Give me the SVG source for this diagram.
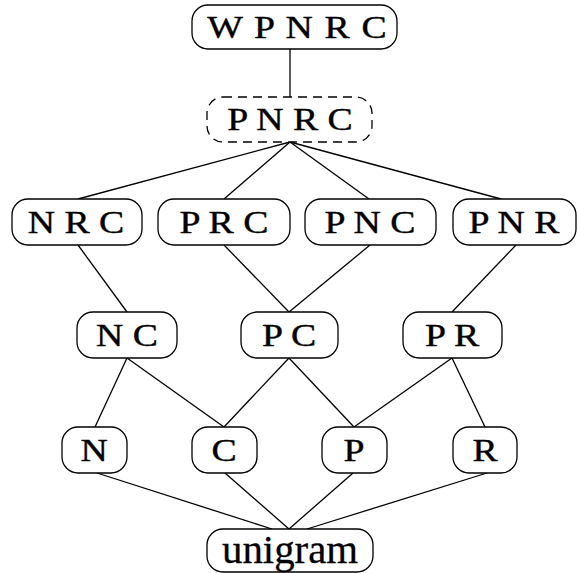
<svg xmlns="http://www.w3.org/2000/svg" width="577" height="573" viewBox="0 0 577 573">
<style>
.box{fill:#fff;stroke:#000;stroke-width:1.3}
.dash{stroke-dasharray:9 6}
.lbl{font-family:"Liberation Serif","Times New Roman",serif;font-size:32px;text-anchor:middle;fill:#000;stroke:#000;stroke-width:0.4}
.uni{font-family:"Liberation Serif","Times New Roman",serif;font-size:40px;text-anchor:middle;fill:#000;stroke:#000;stroke-width:0.3}
#edges line{stroke:#000;stroke-width:1.3}
</style>
<rect width="577" height="573" fill="#fff"/>
<g id="edges">
<line x1="290" y1="49" x2="290" y2="97"/>
<line x1="290" y1="142" x2="78" y2="199"/>
<line x1="290" y1="142" x2="224" y2="199"/>
<line x1="290" y1="142" x2="369" y2="199"/>
<line x1="290" y1="142" x2="501" y2="199"/>
<line x1="78" y1="245" x2="127" y2="312"/>
<line x1="224" y1="245" x2="289" y2="312"/>
<line x1="370" y1="245" x2="289" y2="312"/>
<line x1="516" y1="245" x2="452" y2="312"/>
<line x1="127" y1="358" x2="95" y2="427"/>
<line x1="127" y1="358" x2="224" y2="427"/>
<line x1="289" y1="358" x2="224" y2="427"/>
<line x1="289" y1="358" x2="354" y2="427"/>
<line x1="452" y1="358" x2="354" y2="427"/>
<line x1="452" y1="358" x2="485" y2="427"/>
<line x1="97" y1="473" x2="272" y2="529"/>
<line x1="225" y1="473" x2="289" y2="529"/>
<line x1="353" y1="473" x2="289" y2="529"/>
<line x1="487" y1="473" x2="307" y2="529"/>
</g>
<g id="WPNRC"><rect class="box" x="192" y="5" width="205" height="44" rx="16"/><text class="lbl" transform="translate(297,38) scale(1.18,1)" word-spacing="2">W P N R C</text></g>
<g id="PNRC"><rect class="box dash" x="207" y="97" width="165" height="45" rx="16"/><text class="lbl" transform="translate(290,130) scale(1.18,1)">P N R C</text></g>
<g id="NRC"><rect class="box" x="12" y="199" width="130" height="46" rx="16"/><text class="lbl" transform="translate(76,233) scale(1.18,1)">N R C</text></g>
<g id="PRC"><rect class="box" x="158" y="199" width="132" height="46" rx="16"/><text class="lbl" transform="translate(224,233) scale(1.18,1)">P R C</text></g>
<g id="PNC"><rect class="box" x="305" y="199" width="131" height="46" rx="16"/><text class="lbl" transform="translate(370,233) scale(1.18,1)">P N C</text></g>
<g id="PNR"><rect class="box" x="453" y="199" width="123" height="46" rx="16"/><text class="lbl" transform="translate(514,233) scale(1.18,1)">P N R</text></g>
<g id="NC"><rect class="box" x="77" y="312" width="100" height="46" rx="16"/><text class="lbl" transform="translate(127,346) scale(1.18,1)">N C</text></g>
<g id="PC"><rect class="box" x="241" y="312" width="97" height="46" rx="16"/><text class="lbl" transform="translate(289,346) scale(1.18,1)">P C</text></g>
<g id="PR"><rect class="box" x="403" y="312" width="99" height="46" rx="16"/><text class="lbl" transform="translate(452,346) scale(1.18,1)">P R</text></g>
<g id="N"><rect class="box" x="62" y="427" width="65" height="46" rx="16"/><text class="lbl" transform="translate(94,461) scale(1.18,1)">N</text></g>
<g id="C"><rect class="box" x="192" y="427" width="65" height="46" rx="16"/><text class="lbl" transform="translate(224,461) scale(1.18,1)">C</text></g>
<g id="P"><rect class="box" x="322" y="427" width="65" height="46" rx="16"/><text class="lbl" transform="translate(354,461) scale(1.18,1)">P</text></g>
<g id="R"><rect class="box" x="453" y="427" width="64" height="46" rx="16"/><text class="lbl" transform="translate(485,461) scale(1.18,1)">R</text></g>
<g id="unigram"><rect class="box" x="207" y="529" width="166" height="43" rx="16"/><text class="uni" x="290" y="563" textLength="136" lengthAdjust="spacingAndGlyphs">unigram</text></g>
</svg>
